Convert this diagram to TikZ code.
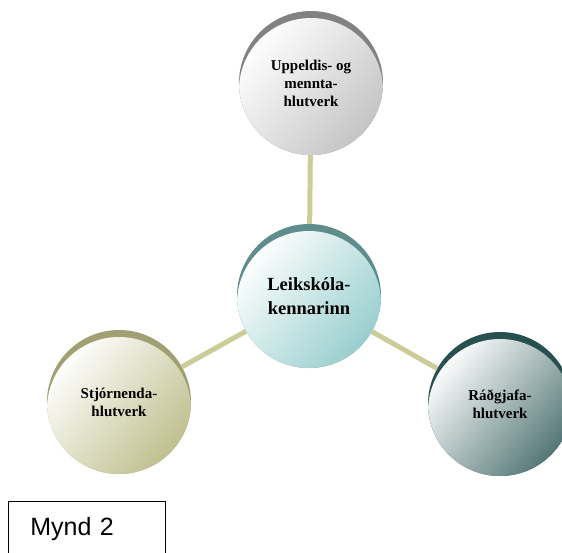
\documentclass[tikz,border=0pt]{standalone}
\usepackage{fontspec}
\setmainfont{Liberation Serif}
\newfontfamily\captionfont{Liberation Sans}
\usetikzlibrary{positioning}
\definecolor{linkcol}{RGB}{204,204,153}
\definecolor{greyrim}{RGB}{130,130,130}
\definecolor{greyfill}{RGB}{195,195,195}
\definecolor{tealrim}{RGB}{95,140,140}
\definecolor{tealfill}{RGB}{150,205,205}
\definecolor{olivrim}{RGB}{160,160,115}
\definecolor{olivfill}{RGB}{190,190,140}
\definecolor{darkrim}{RGB}{40,80,80}
\definecolor{darkfill}{RGB}{80,115,115}
\tikzset{
    role/.style 2 args={circle, inner sep=0pt, minimum size=144pt, fill=#1,
        font=\bfseries\fontsize{15}{18}\selectfont, align=center,
        path picture={\shade[top color=white, middle color=#2!12, bottom color=#2,
            shading angle=50] ([yshift=-7pt]path picture bounding box.center) circle (72pt);}},
    link/.style={draw=linkcol, line width=5pt}
}
\begin{document}
\begin{tikzpicture}[x=1pt,y=-1pt]
    \clip (0,0) rectangle (562,552);
    \node[role={greyrim}{greyfill}] (upp) at (311,83) {Uppeldis- og\\mennta-\\hlutverk};
    \node[role={tealrim}{tealfill}, font=\bfseries\fontsize{18.5}{24}\selectfont] (mid) at (309,296) {Leikskóla-\\kennarinn};
    \node[role={olivrim}{olivfill}] (stj) at (119,402) {Stjórnenda-\\hlutverk};
    \node[role={darkrim}{darkfill}] (rad) at (500,404) {Ráðgjafa-\\hlutverk};
    % connectors
    \draw[link] (mid) -- (upp);
    \draw[link] (mid) -- (stj);
    \draw[link] (mid) -- (rad);
    \node[draw, thick, anchor=north west, minimum width=157pt, minimum height=56pt,
        text width=113pt, inner xsep=22pt, align=left,
        font=\captionfont\fontsize{25}{30}\selectfont] (fig) at (8,501) {Mynd 2};
\end{tikzpicture}
\end{document}
